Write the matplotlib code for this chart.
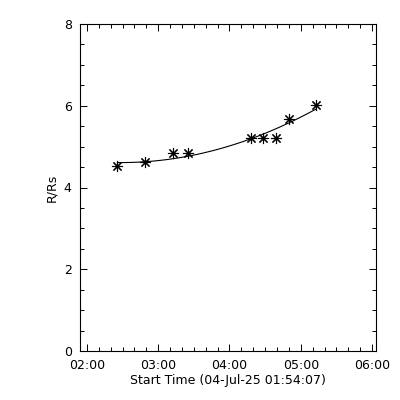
import matplotlib
matplotlib.use("Agg")
import matplotlib.pyplot as plt
import numpy as np

# Times in hours after 02:00 (04-Jul-25), heights in solar radii
start_time_label = "Start Time (04-Jul-25 01:54:07)"
t_hours = [0.427, 0.813, 1.210, 1.414, 2.301, 2.473, 2.650, 2.832, 3.210]
r_rs = [4.53, 4.62, 4.84, 4.84, 5.20, 5.20, 5.22, 5.67, 6.02]
x_ticks = [0, 1, 2, 3, 4]
x_ticklabels = ["02:00", "03:00", "04:00", "05:00", "06:00"]
y_ticks = [0, 2, 4, 6, 8]

t = np.array(t_hours)
r = np.array(r_rs)
coef = np.polyfit(t, r, 2)
tf = np.linspace(t.min(), t.max(), 60)
rf = np.polyval(coef, tf)

fig = plt.figure(figsize=(4, 4), dpi=100)
ax = fig.add_axes([0.2, 0.1225, 0.74, 0.8175])
ax.plot(tf, rf, color="black", lw=0.8)
ax.plot(t, r, linestyle="none", marker=(8, 2, 0), markersize=8,
        markeredgewidth=0.8, color="black")

x0 = -(5 + 53/60) / 60  # 01:54:07
ax.set_xlim(x0, 4.056)
ax.set_ylim(0, 8)
ax.set_xticks(x_ticks)
ax.set_xticklabels(x_ticklabels)
ax.set_xticks(np.arange(0, 4.06, 1/6), minor=True)
ax.set_yticks(y_ticks)
ax.set_yticks(np.arange(0, 8.01, 0.5), minor=True)
ax.tick_params(which="both", direction="in", top=True, right=True,
               width=0.7, labelsize=9, pad=6)
ax.tick_params(which="major", length=5)
ax.tick_params(which="minor", length=2.8)
for s in ax.spines.values():
    s.set_linewidth(0.8)
ax.set_xlabel(start_time_label, fontsize=9, labelpad=1)
ax.set_ylabel("R/Rs", fontsize=9, labelpad=4)
fig.savefig("out.png", dpi=100, facecolor="white")
